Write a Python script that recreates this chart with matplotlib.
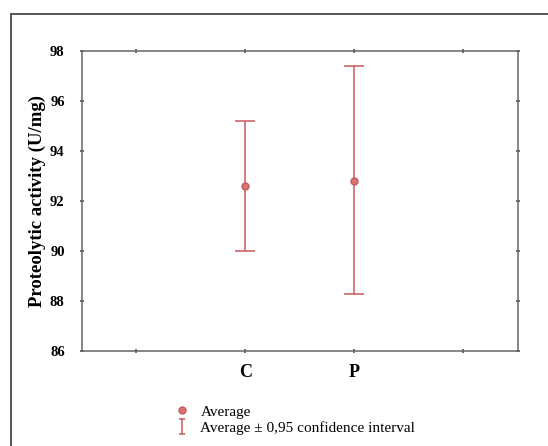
import matplotlib.pyplot as plt
from matplotlib.patches import Rectangle
import numpy as np

plt.rcParams['font.family'] = ['Liberation Serif', 'DejaVu Serif']

# data
groups = ['C', 'P']
means = [92.6, 92.8]
ci_low = [90.0, 88.3]
ci_high = [95.2, 97.4]

red = '#c9585c'

fig = plt.figure(figsize=(5.48, 4.46), dpi=100)
W, H = 548, 446

# outer frame (runs past the image edge on right / bottom)
fig.patches.append(Rectangle((11 / W, -0.05), 1.0, 1 - 14 / H + 0.05,
                             transform=fig.transFigure, fill=False,
                             edgecolor='#555555', linewidth=1.4))

ax = fig.add_axes([82 / W, 1 - 351 / H, (517.5 - 82) / W, (351 - 51) / H])

x = np.arange(1, len(groups) + 1)
m = np.array(means)
yerr = [m - np.array(ci_low), np.array(ci_high) - m]
ax.errorbar(x, m, yerr=yerr, fmt='none', ecolor=red, elinewidth=1.1,
            capsize=7, capthick=1.1)
pt, = ax.plot(x, m, 'o', color=red, markersize=5, markerfacecolor='#d87478',
              markeredgecolor=red, markeredgewidth=1, linestyle='none')

# small proxy for the legend symbol (sits outside the axes, clipped)
eb_leg = ax.errorbar([-10], [92], yerr=[1], fmt='none', ecolor=red,
                     elinewidth=1.1, capsize=2.5, capthick=1.1)

ax.set_xlim(-0.5, 3.5)
ax.set_ylim(86, 98)
ax.set_yticks(np.arange(86, 99, 2))
ax.set_xticks([0, 1, 2, 3])
ax.set_xticklabels(['', 'C', 'P', ''], fontsize=13, fontweight='bold')
for t in ax.get_yticklabels():
    t.set_fontweight('bold')
    t.set_fontsize(10.5)
ax.tick_params(direction='inout', length=3, width=1.2, color='#555555',
               top=True, right=True)
ax.tick_params(axis='x', pad=8)
ax.tick_params(axis='y', pad=11)
for s in ax.spines.values():
    s.set_color('#666666')
    s.set_linewidth(1.1)

ax.set_ylabel('Proteolytic activity (U/mg)', fontsize=13.5, fontweight='bold',
              labelpad=3)

fig.legend([pt, eb_leg], ['Average', 'Average \u00b1 0,95 confidence interval'],
           loc='upper left', bbox_to_anchor=(176 / W, 1 - 405 / H),
           frameon=False, fontsize=11, handlelength=0.8, handletextpad=0.8,
           labelspacing=0.15, borderpad=0, borderaxespad=0)

fig.savefig('out.png', dpi=100)
